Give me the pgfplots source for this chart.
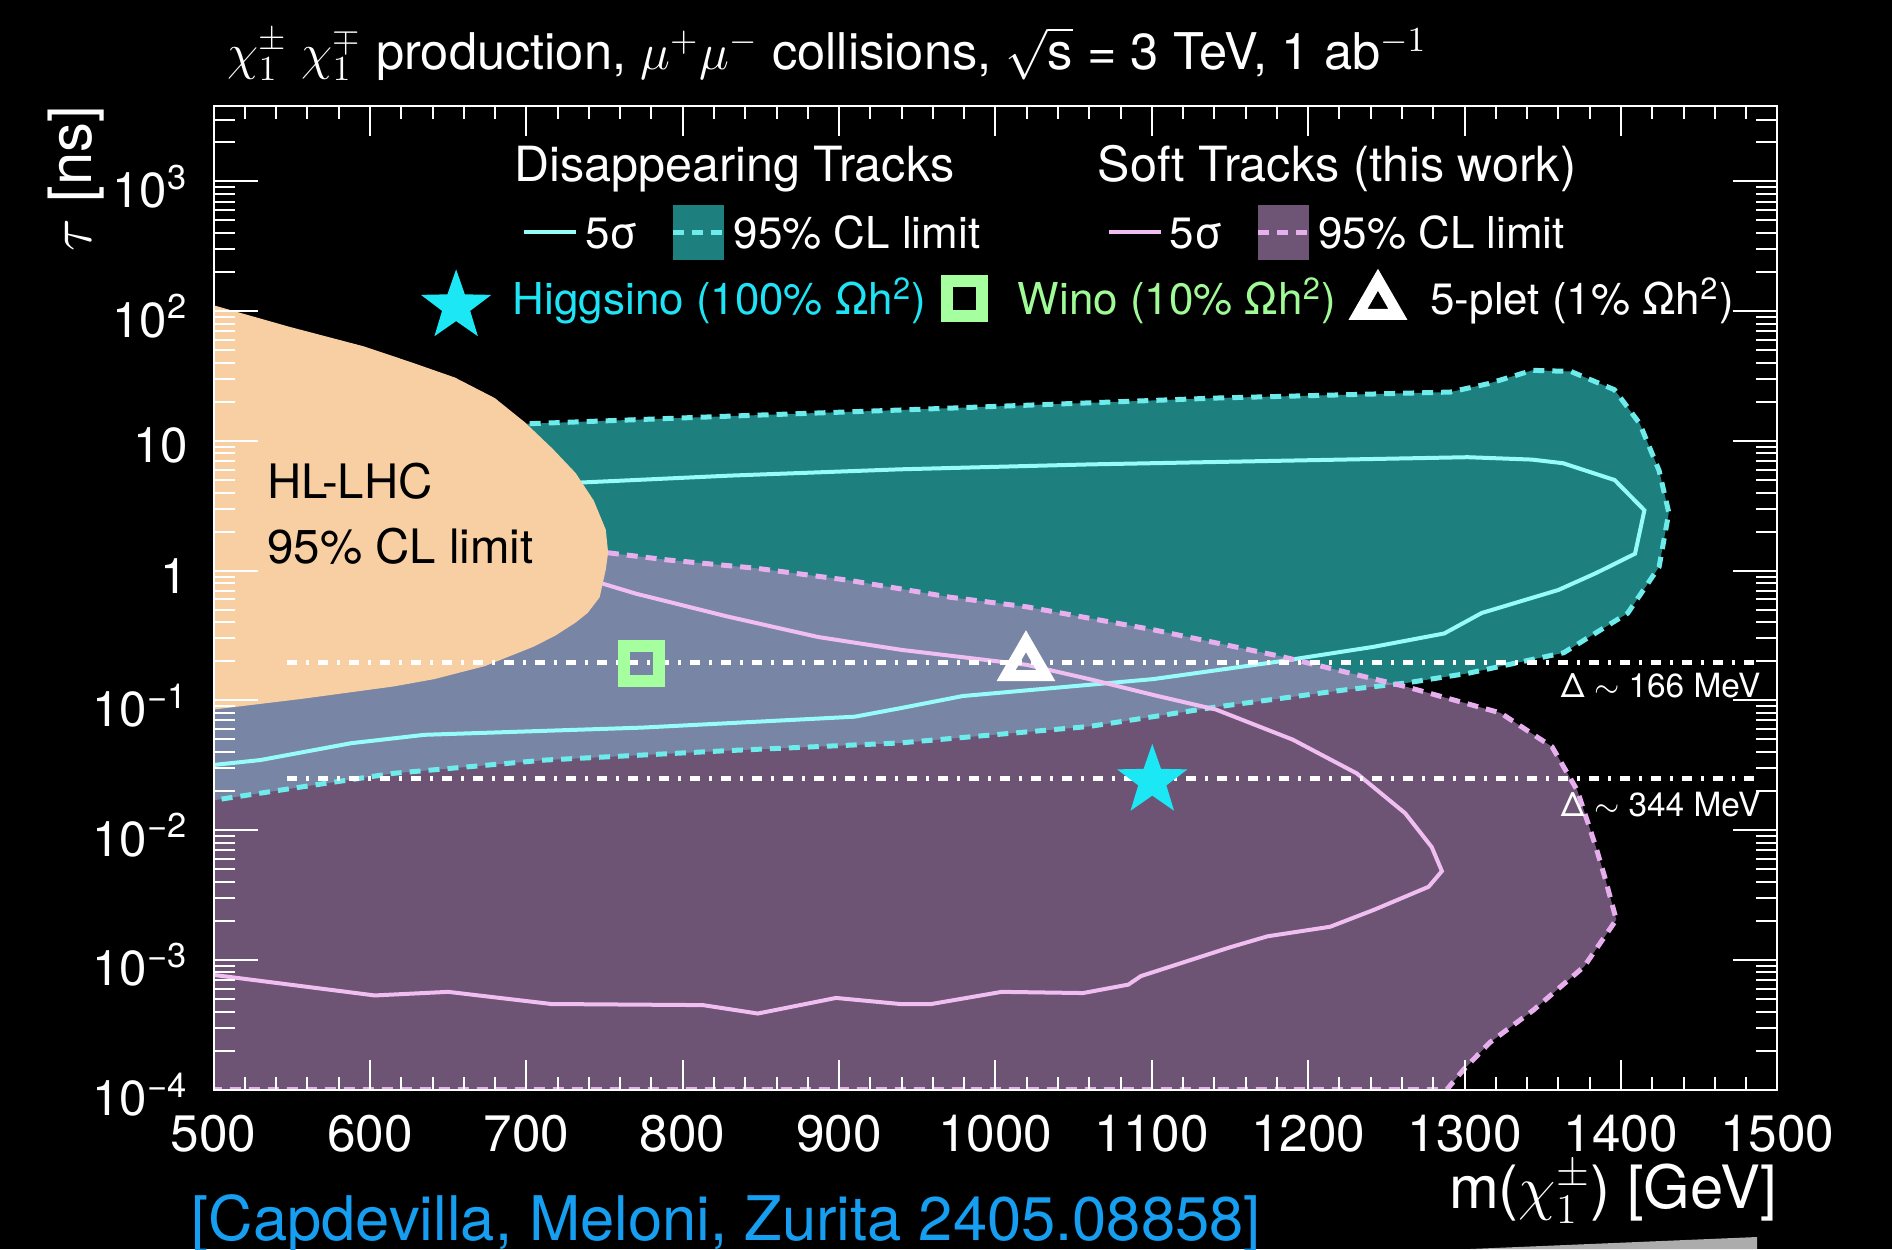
\documentclass[border=0pt]{standalone}
\usepackage{pgfplots}
\pgfplotsset{compat=1.18}
\usepackage{fontspec}
\setmainfont{TeX Gyre Heros}

\definecolor{bgteal}{RGB}{30,128,126}
\definecolor{purpfill}{RGB}{177,137,190}
\definecolor{purpbox}{RGB}{110,85,118}
\definecolor{peach}{RGB}{248,207,163}
\definecolor{cyanline}{RGB}{150,252,250}
\definecolor{cyandash}{RGB}{110,235,235}
\definecolor{pinkline}{RGB}{240,190,240}
\definecolor{pinkdash}{RGB}{232,175,238}
\definecolor{starcyan}{RGB}{28,232,245}
\definecolor{winogreen}{RGB}{166,255,158}
\definecolor{winotext}{RGB}{160,250,150}
\definecolor{higgstext}{RGB}{30,228,245}
\definecolor{citeblue}{RGB}{22,158,240}

\pgfdeclareplotmark{fivestar}{%
  \pgfpathmoveto{\pgfpointpolar{90}{\pgfplotmarksize}}%
  \pgfpathlineto{\pgfpointpolar{126}{0.4\pgfplotmarksize}}%
  \pgfpathlineto{\pgfpointpolar{162}{\pgfplotmarksize}}%
  \pgfpathlineto{\pgfpointpolar{198}{0.4\pgfplotmarksize}}%
  \pgfpathlineto{\pgfpointpolar{234}{\pgfplotmarksize}}%
  \pgfpathlineto{\pgfpointpolar{270}{0.4\pgfplotmarksize}}%
  \pgfpathlineto{\pgfpointpolar{306}{\pgfplotmarksize}}%
  \pgfpathlineto{\pgfpointpolar{342}{0.4\pgfplotmarksize}}%
  \pgfpathlineto{\pgfpointpolar{18}{\pgfplotmarksize}}%
  \pgfpathlineto{\pgfpointpolar{54}{0.4\pgfplotmarksize}}%
  \pgfpathclose\pgfusepathqfill}

\tikzset{
  dtdash/.style={color=cyandash, line width=0.05cm, dash pattern=on 0.11cm off 0.08cm},
  stdash/.style={color=pinkdash, line width=0.05cm, dash pattern=on 0.11cm off 0.08cm},
  dtline/.style={color=cyanline, line width=0.04cm},
  stline/.style={color=pinkline, line width=0.04cm},
  ddline/.style={white, line width=0.05cm, dash pattern=on 0.1cm off 0.09cm on 0.03cm off 0.09cm},
  starmk/.style={only marks, mark=fivestar, mark size=0.37cm, mark options={fill=starcyan, draw=none}},
  sqmk/.style={only marks, mark=square, mark size=0.175cm, mark options={draw=winogreen, fill=none, line width=0.12cm}},
  trmk/.style={only marks, mark=triangle, mark size=0.23cm, mark options={draw=white, fill=none, line width=0.11cm, line join=miter}},
}
\newcommand\legfont{\fontsize{13.8}{16}\selectfont}
\newcommand\legsfont{\fontsize{12.5}{15}\selectfont}

\begin{document}
\begin{tikzpicture}
\fill[black] (-2.136,-1.594) rectangle (16.784,10.896);
\fill[gray!65] (12.564,-1.594) -- (15.434,-1.474) -- (15.434,-1.594) -- cycle;
\begin{axis}[
  at={(0,0)}, anchor=south west,
  scale only axis, width=15.637cm, height=9.834cm,
  xmin=500, xmax=1500, ymode=log, ymin=1e-4, ymax=3800,
  axis on top,
  axis line style={white, line width=0.02cm},
  xtick=\empty,
  ytick={1e-4,1e-3,1e-2,1e-1,1,10,100,1000},
  yticklabels={10\textsuperscript{−4},10\textsuperscript{−3},10\textsuperscript{−2},10\textsuperscript{−1},1,10,10\textsuperscript{2},10\textsuperscript{3}},
  minor ytick={2e-4,3e-4,4e-4,5e-4,6e-4,7e-4,8e-4,9e-4,
    2e-3,3e-3,4e-3,5e-3,6e-3,7e-3,8e-3,9e-3,
    0.02,0.03,0.04,0.05,0.06,0.07,0.08,0.09,
    0.2,0.3,0.4,0.5,0.6,0.7,0.8,0.9,
    2,3,4,5,6,7,8,9,20,30,40,50,60,70,80,90,
    200,300,400,500,600,700,800,900,2000,3000},
  tick pos=both, tick align=inside,
  major tick length=0.44cm, minor tick length=0.21cm,
  every tick/.style={white, line width=0.02cm},
  yticklabel style={font=\fontsize{14}{16}\selectfont, text=white, xshift=-0.13cm, yshift=-0.05cm},
]
% Disappearing tracks 95% CL region
\addplot[fill=bgteal, draw=none] coordinates {
(500,13.6) (704.5,13.6) (828.7,15.5) (939,17.3) (1141.2,21.4) (1290.9,23.8) (1315.6,27.7)
(1343.4,35) (1368,34.3) (1395.8,24.8) (1412,13.6) (1424.4,5.9) (1430.6,2.8) (1424.4,1.07)
(1404.3,0.47) (1363.4,0.233) (1302.5,0.162) (1262.3,0.136) (1222.2,0.12) (1141.2,0.089)
(1060.2,0.063) (939,0.047) (828.7,0.041) (712.2,0.0347) (615,0.0274) (557,0.0216) (500,0.0170)} -- cycle;
% Soft tracks 95% CL region
\addplot[fill=purpfill, fill opacity=0.62, draw=none] coordinates {
(500,0.0001) (500,1.3) (750.8,1.38) (790,1.21) (848,1.04) (906,0.843) (939,0.725) (971,0.624)
(1020,0.526) (1101,0.35) (1182,0.219) (1262,0.128) (1323,0.080) (1356,0.0438) (1372,0.0203)
(1384,0.0074) (1390,0.0042) (1397,0.00204) (1376.5,0.00089) (1344,0.00041) (1316,0.00023)
(1299,0.000141) (1288.6,0.0001)} -- cycle;
% borders
\addplot[dtdash] coordinates {
(690,13.7) (704.5,13.6) (828.7,15.5) (939,17.3) (1141.2,21.4) (1290.9,23.8) (1315.6,27.7)
(1343.4,35) (1368,34.3) (1395.8,24.8) (1412,13.6) (1424.4,5.9) (1430.6,2.8) (1424.4,1.07)
(1404.3,0.47) (1363.4,0.233) (1302.5,0.162) (1262.3,0.136) (1222.2,0.12) (1141.2,0.089)
(1060.2,0.063) (939,0.047) (828.7,0.041) (712.2,0.0347) (615,0.0274) (557,0.0216) (500,0.0170)};
\addplot[dtline] coordinates {
(700,4.6) (735.3,4.78) (830,5.4) (939,6.04) (1060,6.59) (1222,7.18) (1302,7.49) (1343,7.18)
(1363,6.73) (1396,4.99) (1415,2.92) (1409,1.35) (1384,0.957) (1360,0.71) (1311,0.472)
(1287,0.328) (1242,0.259) (1182,0.2) (1101,0.146) (979,0.108) (939,0.087) (910,0.0749)
(774,0.0617) (635,0.0543) (588,0.0468) (530,0.0347) (500,0.0318)};
\addplot[stdash] coordinates {
(740,1.38) (750.8,1.38) (790,1.21) (848,1.04) (906,0.843) (939,0.725) (971,0.624)
(1020,0.526) (1101,0.35) (1182,0.219) (1262,0.128) (1323,0.080) (1356,0.0438) (1372,0.0203)
(1384,0.0074) (1390,0.0042) (1397,0.00204) (1376.5,0.00089) (1344,0.00041) (1316,0.00023)
(1299,0.000141) (1288.6,0.0001) (500,0.0001)};
\addplot[stline] coordinates {
(720,0.95) (746.9,0.807) (770,0.665) (828.7,0.443) (886.6,0.308) (940,0.245) (1020,0.188)
(1060,0.146) (1101,0.110) (1141,0.085) (1190,0.0499) (1231,0.0274) (1262,0.0135) (1279,0.0074)
(1285.5,0.00483) (1277,0.00366) (1242,0.00243) (1214,0.0018) (1174,0.00152) (1150,0.00125)
(1093,0.00075) (1085,0.000645) (1056,0.000555) (1004,0.000567) (959,0.000457) (939,0.000457)
(898,0.000509) (848,0.000386) (813,0.000448) (716,0.000457) (650,0.000567) (603,0.000532) (500,0.000766)};
% HL-LHC region
\addplot[fill=peach, draw=none] coordinates {
(500,111) (548.6,75.7) (595.7,53.7) (625.8,40.6) (654.3,30.8) (679.8,21.4) (699.1,13.9)
(716.8,8.7) (731.5,5.66) (743.1,3.47) (750.8,2.07) (752.3,1.38) (750.8,1.02) (746.9,0.624)
(739.2,0.472) (731.5,0.398) (718.4,0.315) (704.5,0.259) (673.6,0.184) (641.2,0.146)
(615,0.128) (557.1,0.103) (500,0.085)} -- cycle;
% Delta m lines
\addplot[ddline] coordinates {(547,0.196) (1485,0.196)};
\addplot[ddline] coordinates {(547,0.025) (1485,0.025)};
% benchmark points
\addplot[sqmk] coordinates {(773.5,0.194)};
\addplot[trmk] coordinates {(1019.5,0.19)};
\addplot[starmk] coordinates {(1100.3,0.0240)};
% legend samples
\addplot[dtline] coordinates {(698.7,405) (731.5,405)};
\addplot[fill=bgteal, draw=none] coordinates {(793.6,248) (826.4,248) (826.4,659) (793.6,659)} -- cycle;
\addplot[dtdash] coordinates {(793.6,405) (826.4,405)};
\addplot[stline] coordinates {(1072.6,405) (1105.7,405)};
\addplot[fill=purpbox, draw=none] coordinates {(1167.9,248) (1200.8,248) (1200.8,659) (1167.9,659)} -- cycle;
\addplot[stdash] coordinates {(1167.9,405) (1200.8,405)};
\addplot[starmk] coordinates {(655.1,109)};
\addplot[sqmk] coordinates {(979.9,124.5)};
\addplot[trmk] coordinates {(1244.6,116)};
% legend texts
\node[anchor=base west, inner sep=0, text=white, font=\legfont] at (axis cs:692,998) {Disappearing Tracks};
\node[anchor=base west, inner sep=0, text=white, font=\legfont] at (axis cs:1065,998) {Soft Tracks (this work)};
\node[anchor=base west, inner sep=0, text=white, font=\legsfont] at (axis cs:737.4,306) {5σ};
\node[anchor=base west, inner sep=0, text=white, font=\legsfont] at (axis cs:832.2,306) {95\% CL limit};
\node[anchor=base west, inner sep=0, text=white, font=\legsfont] at (axis cs:1111,306) {5σ};
\node[anchor=base west, inner sep=0, text=white, font=\legsfont] at (axis cs:1206,306) {95\% CL limit};
\node[anchor=base west, inner sep=0, text=higgstext, font=\legsfont] at (axis cs:691,93.8) {Higgsino (100\% Ωh\textsuperscript{2})};
\node[anchor=base west, inner sep=0, text=winotext, font=\legsfont] at (axis cs:1013.9,93.8) {Wino (10\% Ωh\textsuperscript{2})};
\node[anchor=base west, inner sep=0, text=white, font=\legsfont] at (axis cs:1277.8,93.8) {5-plet (1\% Ωh\textsuperscript{2})};
% HL-LHC label
\node[anchor=base west, inner sep=0, text=black, font=\fontsize{13.5}{16}\selectfont] at (axis cs:534,3.57) {HL-LHC};
\node[anchor=base west, inner sep=0, text=black, font=\fontsize{13.5}{16}\selectfont] at (axis cs:534,1.14) {95\% CL limit};
% Delta labels
\node[anchor=base east, inner sep=0, text=white, font=\fontsize{9.5}{11}\selectfont] at (axis cs:1489.6,0.1054) {Δ $\sim$ 166 MeV};
\node[anchor=base east, inner sep=0, text=white, font=\fontsize{9.5}{11}\selectfont] at (axis cs:1489.6,0.01265) {Δ $\sim$ 344 MeV};
\end{axis}
\begin{axis}[
  at={(0,0)}, anchor=south west,
  scale only axis, width=15.637cm, height=9.834cm,
  xmin=500, xmax=1500, ymode=log, ymin=1e-4, ymax=3800,
  axis on top,
  axis line style={draw=none},
  ytick=\empty,
  xtick={500,600,700,800,900,1000,1100,1200,1300,1400,1500},
  xticklabels={500,600,700,800,900,1000,1100,1200,1300,1400,1500},
  minor x tick num=4,
  tick pos=both, tick align=inside,
  major tick length=0.3cm, minor tick length=0.13cm,
  every tick/.style={white, line width=0.02cm},
  xticklabel style={font=\fontsize{14.6}{16}\selectfont, text=white, yshift=-0.13cm},
]
\end{axis}
% title and axis labels
\node[anchor=base west, inner sep=0, text=white, font=\fontsize{14.4}{16}\selectfont] at (0.134,10.2)
  {$\chi^{\pm}_{1}$ $\chi^{\mp}_{1}$ production, $\mu^{+}\mu^{-}$ collisions, $\sqrt{\mbox{s}}$ = 3 TeV, 1 ab$^{-1}$};
\node[anchor=east, rotate=90, inner sep=0, text=white, font=\fontsize{17}{19}\selectfont] at (-1.378,9.846) {$\tau$ [ns]};
\node[anchor=base east, inner sep=0, text=white, font=\fontsize{17}{19}\selectfont] at (15.637,-1.184) {m($\chi^{\pm}_{1}$) [GeV]};
\node[anchor=base west, inner sep=0, text=citeblue, font=\fontsize{17.5}{19}\selectfont] at (-0.226,-1.504) {[Capdevilla, Meloni, Zurita 2405.08858]};
\pgfresetboundingbox
\path[use as bounding box] (-2.136,-1.594) rectangle (16.784,10.896);
\end{tikzpicture}
\end{document}
